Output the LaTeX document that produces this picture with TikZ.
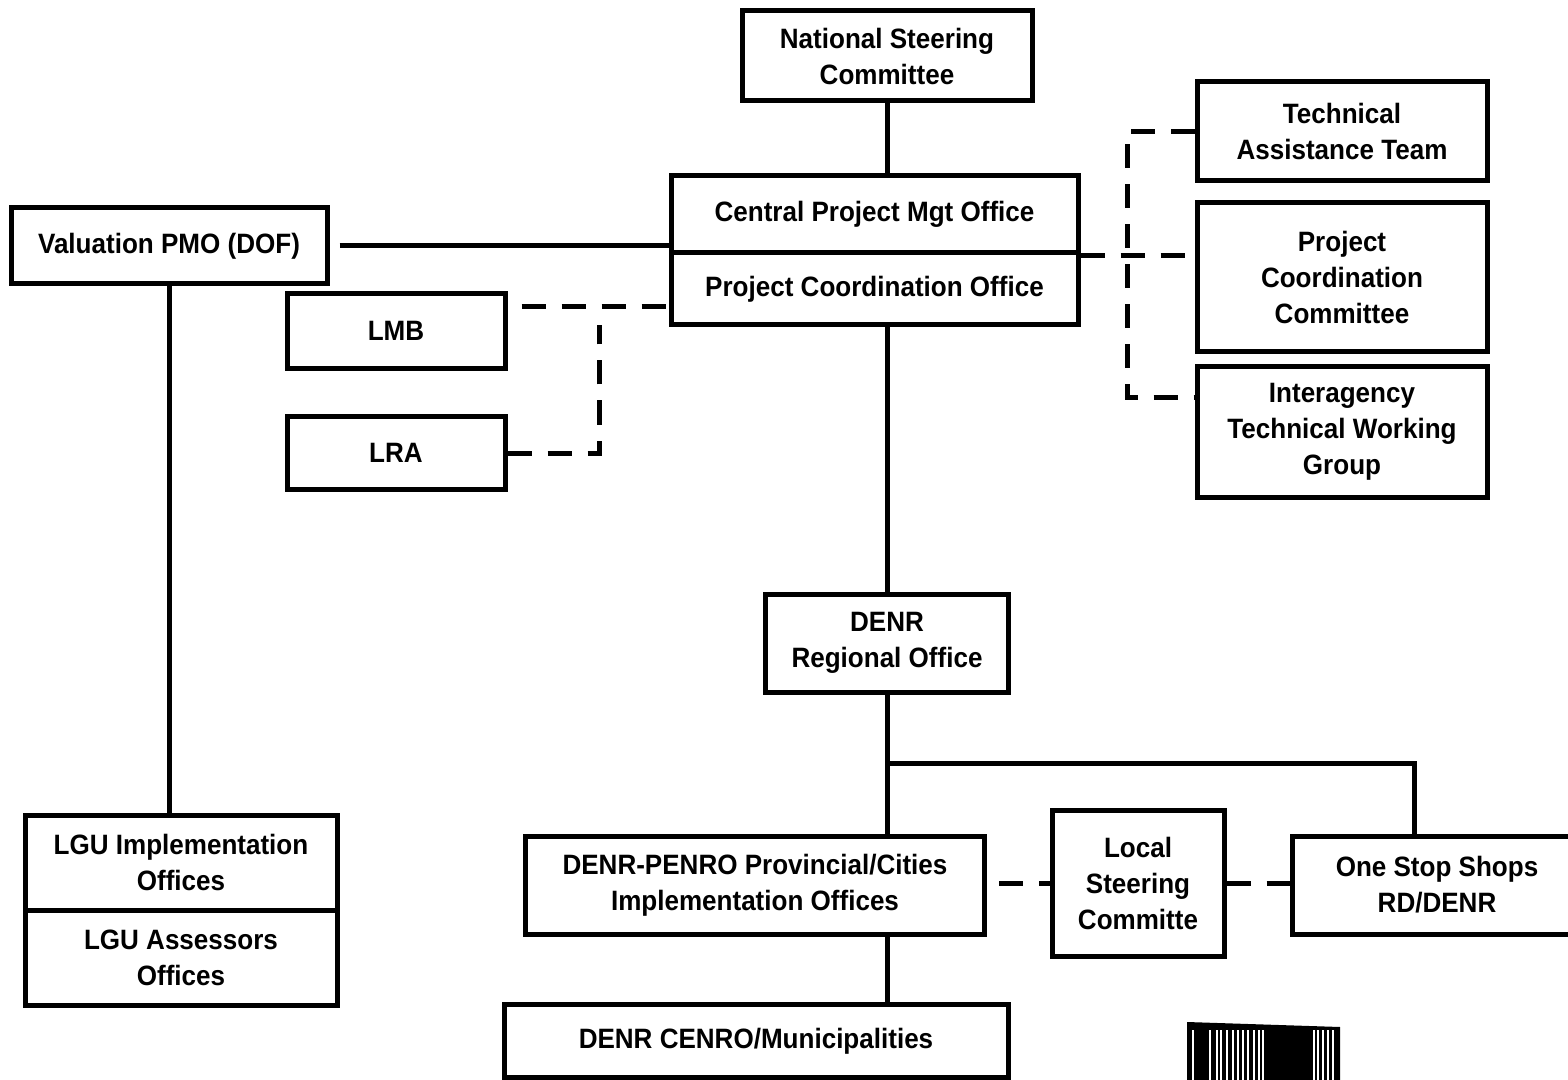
\documentclass[tikz,border=0pt]{standalone}
\usepackage{fontspec}
\setmainfont{Liberation Sans}[FakeStretch=0.93]
\usepackage{tikz}
\usetikzlibrary{positioning,calc}

\begin{document}
\begin{tikzpicture}[x=0.5pt,y=-0.5pt,
    box/.style={draw,line width=2.5pt,inner sep=0pt,align=center,
        font=\fontsize{14}{18}\selectfont\bfseries},
    link/.style={line width=2.5pt},
    dlink/.style={line width=2.5pt,dash pattern=on 12pt off 8pt}]
    \useasboundingbox (0,0) rectangle (1568,1080);
    \clip (0,0) rectangle (1568,1080);

    % Top level
    \node[box,minimum width=145pt,minimum height=45pt] (nsc) at (887,56) {National Steering\\Committee};
    \node[box,minimum width=203.5pt,minimum height=38.5pt] (cpmo) at (874.5,214.5) {Central Project Mgt Office};
    \node[box,minimum width=203.5pt,minimum height=36pt] (pco) at (874.5,289) {Project Coordination Office};

    % Left side
    \node[box,minimum width=158pt,minimum height=38pt] (val) at (169,246) {Valuation PMO (DOF)};
    \node[box,minimum width=109pt,minimum height=37.5pt] (lmb) at (396,331) {LMB};
    \node[box,minimum width=109pt,minimum height=36.5pt] (lra) at (396,453) {LRA};
    \node[box,minimum width=156pt,minimum height=47.5pt] (lgui) at (181,862.5) {LGU Implementation\\Offices};
    \node[box,minimum width=156pt,minimum height=47.5pt] (lgua) at (181,957.5) {LGU Assessors\\Offices};

    % Right side
    \node[box,minimum width=145pt,minimum height=49.5pt] (tat) at (1342,131) {Technical\\Assistance Team};
    \node[box,minimum width=145pt,minimum height=74.5pt] (pcc) at (1342,277) {Project\\Coordination\\Committee};
    \node[box,minimum width=145pt,minimum height=65pt] (itwg) at (1342,432) {Interagency\\Technical Working\\Group};

    % Regional and local level
    \node[box,minimum width=121.5pt,minimum height=49pt] (ro) at (887,643) {DENR\\Regional Office};
    \node[box,minimum width=229.5pt,minimum height=49pt] (penro) at (755,885) {DENR-PENRO Provincial/Cities\\Implementation Offices};
    \node[box,minimum width=86pt,minimum height=73pt] (lsc) at (1138,883) {Local\\Steering\\Committe};
    \node[box,minimum width=145pt,minimum height=49pt] (oss) at (1437,885) {One Stop Shops\\RD/DENR};
    \node[box,minimum width=252pt,minimum height=36.5pt] (cenro) at (756,1041) {DENR CENRO/Municipalities};

    % Joints
    \coordinate (lmbj) at (599,307);
    \coordinate (brt) at (1127,132);
    \coordinate (brb) at (1127,398);
    \coordinate (split) at (887,763);
    \coordinate (ossj) at (1414,763);

    % Solid lines
    \draw[link] (nsc.south) -- (nsc.south |- cpmo.north);
    \draw[link,shorten <=5pt] (val.east) -- (val.east -| cpmo.west);
    \draw[link] (val.south) -- (val.south |- lgui.north);
    \draw[link] (ro.north |- pco.south) -- (ro.north);
    \draw[link] (ro.south) -- (ro.south |- penro.north);
    \draw[link] (split) -- (ossj) -- (ossj |- oss.north);
    \draw[link] (penro.south -| ro.south) -- (cenro.north -| ro.south);

    % Dashed lines
    \draw[dlink,shorten <=7pt] (lmb.east |- lmbj) -- (lmbj -| pco.west);
    \draw[dlink] (lra.east) -- (lra.east -| lmbj) -- ([yshift=-9pt]lmbj);
    \draw[dlink] (tat.west |- brt) -- (brt) -- (brb) -- (brb -| itwg.west);
    \draw[dlink] (cpmo.south east) -- (cpmo.south east -| pcc.west);
    \draw[dlink,shorten <=6pt] (penro.east |- lsc) -- (lsc.west);
    \draw[dlink] (lsc.east) -- (lsc.east -| oss.west);

    % Barcode
    \fill (1187,1022) -- (1340,1027) -- (1340,1080) -- (1187,1080) -- cycle;
    \foreach \bx in {1192,1209,1216,1220,1226,1232,1237,1242,1247,1253,1258,1262,1313,1317,1322,1327,1332} {
        \fill[white] (\bx,1030) rectangle (\bx+2,1080);
    }
\end{tikzpicture}
\end{document}
